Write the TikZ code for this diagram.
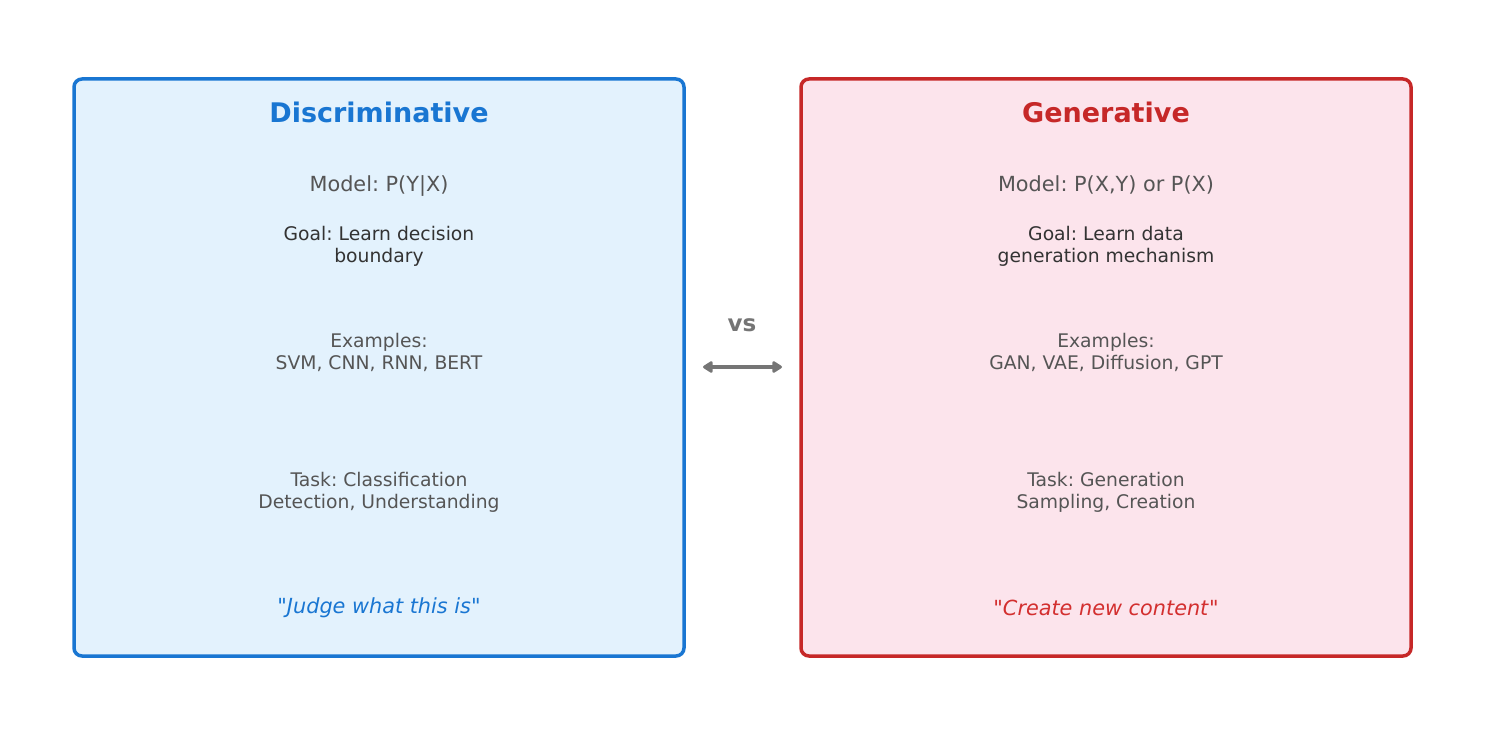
\documentclass[tikz,border=0pt]{standalone}
\usepackage{fontspec}
\setmainfont{DejaVu Sans}[Ligatures=TeXOff]
\usetikzlibrary{arrows.meta}
\definecolor{dblue}{HTML}{1976D2}
\definecolor{lblue}{HTML}{E3F2FD}
\definecolor{dred}{HTML}{C62828}
\definecolor{qred}{HTML}{D32F2F}
\definecolor{lred}{HTML}{FCE4EC}
\definecolor{tgray}{HTML}{555555}
\definecolor{tdark}{HTML}{333333}
\definecolor{agray}{HTML}{757575}
\tikzset{
  panel/.style={rounded corners=8pt, line width=3.5pt},
  title/.style={font=\fontsize{27}{32}\selectfont\bfseries, anchor=center},
  modeltxt/.style={font=\fontsize{20.8}{24}\selectfont, text=tgray, anchor=center},
  goaltxt/.style={font=\fontsize{18.75}{22}\selectfont, text=tdark, align=center, anchor=center},
  bodytxt/.style={font=\fontsize{18.75}{22}\selectfont, text=tgray, align=center, anchor=center},
  quotetxt/.style={font=\fontsize{20.8}{24}\selectfont, anchor=center},
}
\begin{document}
\frenchspacing
\begin{tikzpicture}[x=1pt,y=-1pt]
\useasboundingbox (0,0) rectangle (1485,735);
% panels
\draw[panel, draw=dblue, fill=lblue] (74,79) rectangle (684,656);
\draw[panel, draw=dred, fill=lred] (801,79) rectangle (1411,656);
% left texts
\node[title, text=dblue] (lt) at (379,112) {Discriminative};
\node[modeltxt] (lm) at (379,186) {Model: P(Y|X)};
\node[goaltxt] (lg) at (379,246) {Goal: Learn decision\\boundary};
\node[bodytxt] (le) at (379,352) {Examples:\\SVM, CNN, RNN, BERT};
\node[bodytxt] (lk) at (379,492) {Task: Classification\\Detection, Understanding};
\node[quotetxt, text=dblue] (lq) at (379,608) {"\textit{Judge what this is}"};
% right texts
\node[title, text=dred] (rt) at (1106,112) {Generative};
\node[modeltxt] (rm) at (1106,185) {Model: P(X,Y) or P(X)};
\node[goaltxt] (rg) at (1106,246) {Goal: Learn data\\generation mechanism};
\node[bodytxt] (re) at (1106,352) {Examples:\\GAN, VAE, Diffusion, GPT};
\node[bodytxt] (rk) at (1106,492) {Task: Generation\\Sampling, Creation};
\node[quotetxt, text=qred] (rq) at (1106,608) {"\textit{Create new content}"};
% vs
\node[font=\fontsize{23}{27}\selectfont\bfseries, text=agray] (vs) at (742,325) {vs};
\coordinate (a1) at (703,367);
\coordinate (a2) at (782,367);
\draw[agray, line width=4pt, line cap=round, {Triangle[length=11pt,width=13pt,round]}-{Triangle[length=11pt,width=13pt,round]}] (a1) -- (a2);
\end{tikzpicture}
\end{document}
